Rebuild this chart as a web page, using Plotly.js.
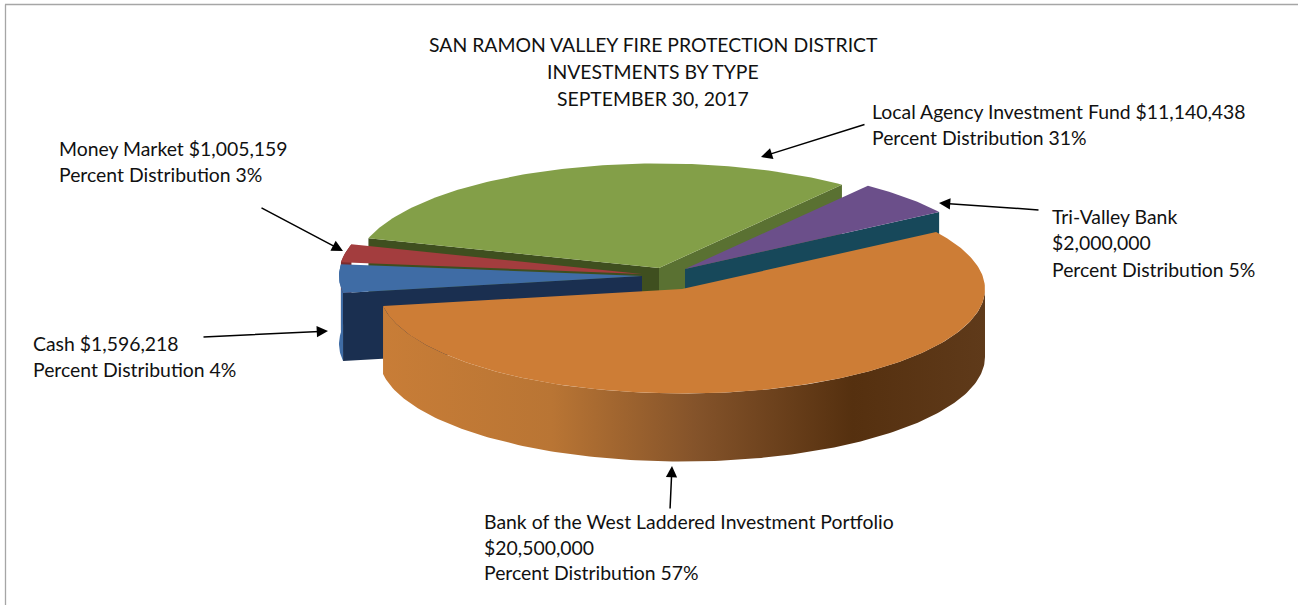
<!DOCTYPE html>
<html>
<head>
<meta charset="utf-8">
<script src="https://cdn.plot.ly/plotly-3.0.1.min.js"></script>
<style>html,body{margin:0;padding:0;background:#fff}#chart{width:1298px;height:605px}</style>
</head>
<body>
<div id="chart"></div>
<script>
// Data
const categories = ["Tri-Valley Bank","Local Agency Investment Fund","Money Market","Cash","Bank of the West Laddered Investment Portfolio"];
const values = [2000000, 11140438, 1005159, 1596218, 20500000];
const percents = [5, 31, 3, 4, 57];
const titleLines = ["SAN RAMON VALLEY FIRE PROTECTION DISTRICT","INVESTMENTS BY TYPE","SEPTEMBER 30, 2017"];
const labelLines = [
  ["Local Agency Investment Fund $11,140,438","Percent Distribution 31%"],
  ["Tri-Valley Bank","$2,000,000","Percent Distribution 5%"],
  ["Money Market $1,005,159","Percent Distribution 3%"],
  ["Cash $1,596,218","Percent Distribution 4%"],
  ["Bank of the West Laddered Investment Portfolio","$20,500,000","Percent Distribution 57%"]
];

// Styling / geometry of the tilted pie
const startAngle = 33, RX = 303, RATIO = 0.345, DEPTH = 68;
const centers = [[685,269],[659,268],[642,274],[642,276],[682,289]];
const topColors = ["#6b4f8a","#839f48","#a33d3e","#3f6ca5","#cd7d36"];
const FONT = "Lato, Carlito, sans-serif";

const total = values.reduce((a,b)=>a+b,0);
function pt(c,deg,dz){const t=deg*Math.PI/180;return [c[0]+RX*Math.cos(t), c[1]-RX*RATIO*Math.sin(t)+(dz||0)];}
function arc(c,a0,a1,dz){const n=Math.max(2,Math.ceil(Math.abs(a1-a0)));const o=[];for(let i=0;i<=n;i++)o.push(pt(c,a0+(a1-a0)*i/n,dz));return o;}
function poly(points,color,extra){return Object.assign({type:"scatter",mode:"lines",x:points.map(p=>p[0]),y:points.map(p=>p[1]),fill:"toself",fillcolor:color,line:{width:0,color:color},hoverinfo:"skip",showlegend:false},extra||{});}

const spans=[];let a=startAngle;
values.forEach((v,i)=>{const s=v/total*360;spans.push([a,a+s]);a+=s;});
function radialWall(c,deg,color){return poly([[c[0],c[1]],pt(c,deg),pt(c,deg,DEPTH),[c[0],c[1]+DEPTH]],color);}
function sliceTop(i){const c=centers[i],s=spans[i];return poly([[c[0],c[1]]].concat(arc(c,s[0],s[1])),topColors[i],{name:categories[i]});}

const traces=[];
// green walls + top
traces.push(radialWall(centers[1],spans[1][0],"#5a7132"));
traces.push(radialWall(centers[1],spans[1][1],"#3f4f1f"));
traces.push(sliceTop(1));
// purple
traces.push(radialWall(centers[0],spans[0][0],"#17485a"));
traces.push(sliceTop(0));
// red
traces.push(poly(arc(centers[2],spans[2][0],spans[2][1]).concat(arc(centers[2],spans[2][1],spans[2][0],DEPTH)),"#7a2b2c"));
traces.push(sliceTop(2));
// blue
traces.push(poly(arc(centers[3],spans[3][0],spans[3][1]).concat(arc(centers[3],spans[3][1],spans[3][0],DEPTH)),"#3f6ca5"));
traces.push(radialWall(centers[3],spans[3][1],"#1a2f50"));
traces.push(sliceTop(3));
// orange rim with horizontal gradient + top
const oc=centers[4], oa0=spans[4][0];
traces.push(poly(arc(oc,oa0,360).concat(arc(oc,360,oa0,DEPTH)),"#a9682f",{
  fillgradient:{type:"horizontal",colorscale:[[0,"#c87d37"],[0.28,"#b97534"],[0.52,"#84532a"],[0.78,"#55300f"],[1,"#5f3a1a"]]}
}));
traces.push(sliceTop(4));

const annotations=[];
function textLine(t,x,y,anchor){annotations.push({text:t,x:x,y:y,xref:"x",yref:"y",xanchor:anchor,yanchor:"middle",showarrow:false,font:{family:FONT,size:19.4,color:"#111"}});}
[44,71,98].forEach((y,i)=>textLine(titleLines[i],653,y,"center"));
const labelX=[870,1050,57,31,482];
const labelY=[[111,137],[216,242,269],[148,174],[343,369],[521,547,572]];
labelLines.forEach((ls,i)=>ls.forEach((t,j)=>textLine(t,labelX[i],labelY[i][j],"left")));
function arrow(x0,y0,x1,y1){annotations.push({text:"",x:x1,y:y1,ax:x0,ay:y0,xref:"x",yref:"y",axref:"x",ayref:"y",showarrow:true,arrowhead:2,arrowsize:1.5,arrowwidth:1.5,arrowcolor:"#000",standoff:0});}
arrow(866,124,761,157);
arrow(1040,210,939,203);
arrow(260,207,343,251);
arrow(202,337,328,331);
arrow(670,510,672,466);

const layout={
  width:1298,height:605,margin:{l:0,r:0,t:0,b:0},paper_bgcolor:"#fff",plot_bgcolor:"#fff",showlegend:false,
  xaxis:{range:[0,1298],visible:false,fixedrange:true},
  yaxis:{range:[605,0],visible:false,fixedrange:true},
  annotations:annotations,
  shapes:[{type:"line",x0:5.5,x1:5.5,y0:4.5,y1:605,line:{color:"#a6a6a6",width:1.3}},
          {type:"line",x0:5,x1:1298,y0:4.5,y1:4.5,line:{color:"#a6a6a6",width:1.3}}]
};
Plotly.newPlot("chart",traces,layout,{displayModeBar:false,staticPlot:true});
</script>
</body>
</html>
